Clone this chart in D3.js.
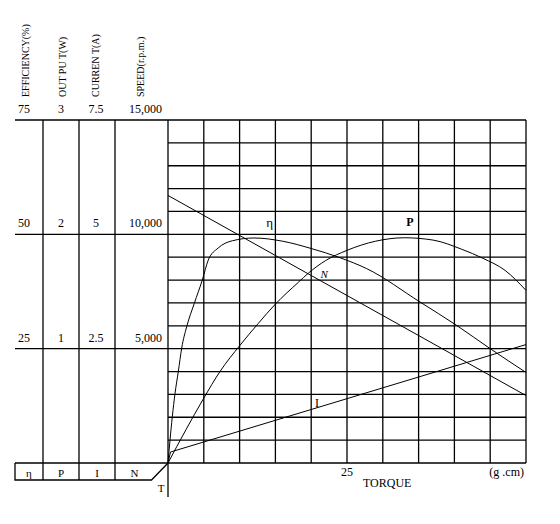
<!DOCTYPE html>
<html>
<head>
<meta charset="utf-8">
<script src="https://cdn.jsdelivr.net/npm/d3@7"></script>
<style>
    body { margin: 0; background: #fff; }
    text { font-family: "Liberation Serif", "Times New Roman", serif; fill: #000; }
</style>
</head>
<body>
<div class="chart"></div>
<script>
// Axis titles and tick values (left table)
const axisTitles = ['EFFICIENCY(%)', 'OUT PU T(W)', 'CURREN T(A)', 'SPEED(r.p.m.)']
const effTicks = [25, 50, 75]
const outTicks = [1, 2, 3]
const curTicks = [2.5, 5, 7.5]
const speedTicks = [5000, 10000, 15000]
const boxLabels = ['η', 'P', 'I', 'N']
const torqueTicks = [25]

// Curves, torque in g.cm
const effTorque = [0, 0.28, 0.6, 0.98, 1.44, 1.91, 2.61, 3.67, 4.79, 5.63, 7, 9, 12, 16, 20, 24, 27.75, 35.2, 40.3, 45, 50]
const effValues = [0, 5, 10.1, 15.2, 20, 25.1, 29.8, 34.9, 40, 44.4, 47, 48.6, 49.2, 48.5, 46.9, 44.9, 42.5, 35.2, 30.1, 25, 19.8]

const outTorque = [0, 2.5, 4.93, 7.26, 10.06, 12.6, 15, 18.2, 19.6, 22, 25, 29, 33, 37, 41, 44, 47.07, 50]
const outValues = [0, 0.29, 0.56, 0.8, 1.03, 1.22, 1.39, 1.58, 1.66, 1.77, 1.86, 1.94, 1.97, 1.95, 1.87, 1.79, 1.685, 1.51]

const curTorque = [0, 0.35, 50]
const curValues = [0, 0.24, 2.59]

const speedTorque = [0, 50]
const speedValues = [11700, 2950]

function draw() {
    // Dimensions
    let dimensions = {
        width: 560,
        height: 524,
        left: 168,
        right: 526,
        top: 120,
        bottom: 463,
        tableLeft: 15,
        boxBottom: 480
    }
    // left table column dividers
    const colX = [15, 43, 79, 115, 168]

    const svg = d3.select('.chart')
        .append('svg')
        .attr('width', dimensions.width)
        .attr('height', dimensions.height)

    // Scales
    const xScale = d3.scaleLinear().domain([0, 50]).range([dimensions.left, dimensions.right])
    const effScale = d3.scaleLinear().domain([0, 75]).range([dimensions.bottom, dimensions.top])
    const outScale = d3.scaleLinear().domain([0, 3]).range([dimensions.bottom, dimensions.top])
    const curScale = d3.scaleLinear().domain([0, 7.5]).range([dimensions.bottom, dimensions.top])
    const speedScale = d3.scaleLinear().domain([0, 15000]).range([dimensions.bottom, dimensions.top])

    // Grid
    const grid = svg.append('g')
        .attr('stroke', '#000')
        .attr('stroke-width', 1.3)

    grid.selectAll('.v')
        .data(d3.range(0, 51, 5))
        .join('line')
        .attr('x1', d => xScale(d))
        .attr('x2', d => xScale(d))
        .attr('y1', dimensions.top)
        .attr('y2', dimensions.bottom)

    grid.selectAll('.h')
        .data(d3.range(0, 76, 5))
        .join('line')
        .attr('x1', dimensions.left)
        .attr('x2', dimensions.right)
        .attr('y1', d => effScale(d))
        .attr('y2', d => effScale(d))

    // Left table lines
    const table = svg.append('g')
        .attr('stroke', '#000')
        .attr('stroke-width', 1.3)
        .attr('fill', 'none')

    table.selectAll('.row')
        .data([0].concat(effTicks))
        .join('line')
        .attr('x1', dimensions.tableLeft)
        .attr('x2', dimensions.left)
        .attr('y1', d => effScale(d))
        .attr('y2', d => effScale(d))

    table.selectAll('.col')
        .data(colX.slice(1, 4))
        .join('line')
        .attr('x1', d => d)
        .attr('x2', d => d)
        .attr('y1', dimensions.top)
        .attr('y2', dimensions.boxBottom)

    // bottom box with the diagonal to the origin
    table.append('path')
        .attr('d', `M${dimensions.tableLeft},${dimensions.bottom}V${dimensions.boxBottom}H151.5L${dimensions.left},${dimensions.bottom}`)

    // torque axis line runs below the chart
    table.append('line')
        .attr('x1', dimensions.left)
        .attr('x2', dimensions.left)
        .attr('y1', dimensions.bottom)
        .attr('y2', 497)

    // Rotated axis titles
    const titleX = [29, 66, 99, 144]
    svg.selectAll('.title')
        .data(axisTitles)
        .join('text')
        .attr('transform', (d, i) => `translate(${titleX[i]}, 97) rotate(-90)`)
        .attr('font-size', 10)
        .text(d => d)

    // Tick value columns
    const columns = [
        { ticks: effTicks, scale: effScale, x: 24, anchor: 'middle', fmt: d3.format('') },
        { ticks: outTicks, scale: outScale, x: 61, anchor: 'middle', fmt: d3.format('') },
        { ticks: curTicks, scale: curScale, x: 96, anchor: 'middle', fmt: d3.format('') },
        { ticks: speedTicks, scale: speedScale, x: 162, anchor: 'end', fmt: d3.format(',') }
    ]

    columns.forEach(col => {
        svg.append('g')
            .selectAll('text')
            .data(col.ticks)
            .join('text')
            .attr('x', col.x)
            .attr('y', d => col.scale(d) - 7)
            .attr('text-anchor', col.anchor)
            .attr('font-size', 12)
            .text(col.fmt)
    })

    // Box labels
    svg.selectAll('.box')
        .data(boxLabels)
        .join('text')
        .attr('x', (d, i) => (colX[i] + colX[i + 1]) / 2 + (i === 3 ? -7 : 0))
        .attr('y', 477)
        .attr('text-anchor', 'middle')
        .attr('font-size', 11)
        .text(d => d)

    // Torque axis labels
    svg.selectAll('.tt')
        .data(torqueTicks)
        .join('text')
        .attr('x', d => xScale(d))
        .attr('y', 476)
        .attr('text-anchor', 'middle')
        .attr('font-size', 12)
        .text(d => d)

    svg.append('text')
        .attr('x', 363)
        .attr('y', 487)
        .attr('font-size', 12)
        .text('TORQUE')

    svg.append('text')
        .attr('x', 524)
        .attr('y', 476)
        .attr('text-anchor', 'end')
        .attr('font-size', 12)
        .text('(g .cm)')

    svg.append('text')
        .attr('x', 161)
        .attr('y', 492)
        .attr('text-anchor', 'middle')
        .attr('font-size', 11)
        .text('T')

    // Curves
    const curves = svg.append('g')
        .attr('fill', 'none')
        .attr('stroke', '#000')
        .attr('stroke-width', 1)

    const drawCurve = (torque, values, yScale, curve) => {
        const line = d3.line()
            .x(d => xScale(d[0]))
            .y(d => yScale(d[1]))
            .curve(curve)
        curves.append('path')
            .attr('d', line(d3.zip(torque, values)))
    }

    drawCurve(effTorque, effValues, effScale, d3.curveMonotoneX)
    drawCurve(outTorque, outValues, outScale, d3.curveMonotoneX)
    drawCurve(curTorque, curValues, curScale, d3.curveLinear)
    drawCurve(speedTorque, speedValues, speedScale, d3.curveLinear)

    // Curve labels
    svg.append('text')
        .attr('x', xScale(14.2))
        .attr('y', effScale(51.5))
        .attr('text-anchor', 'middle')
        .attr('font-size', 13)
        .text('η')

    svg.append('text')
        .attr('x', xScale(33.8))
        .attr('y', outScale(2.07))
        .attr('text-anchor', 'middle')
        .attr('font-size', 12)
        .attr('font-weight', 'bold')
        .attr('font-family', '"Liberation Mono", monospace')
        .text('P')

    svg.append('text')
        .attr('x', xScale(21.8))
        .attr('y', speedScale(8100))
        .attr('text-anchor', 'middle')
        .attr('font-size', 11)
        .attr('font-style', 'italic')
        .text('N')

    svg.append('text')
        .attr('x', xScale(20.8))
        .attr('y', curScale(1.23))
        .attr('text-anchor', 'middle')
        .attr('font-size', 12)
        .text('I')
}

draw()
</script>
</body>
</html>
